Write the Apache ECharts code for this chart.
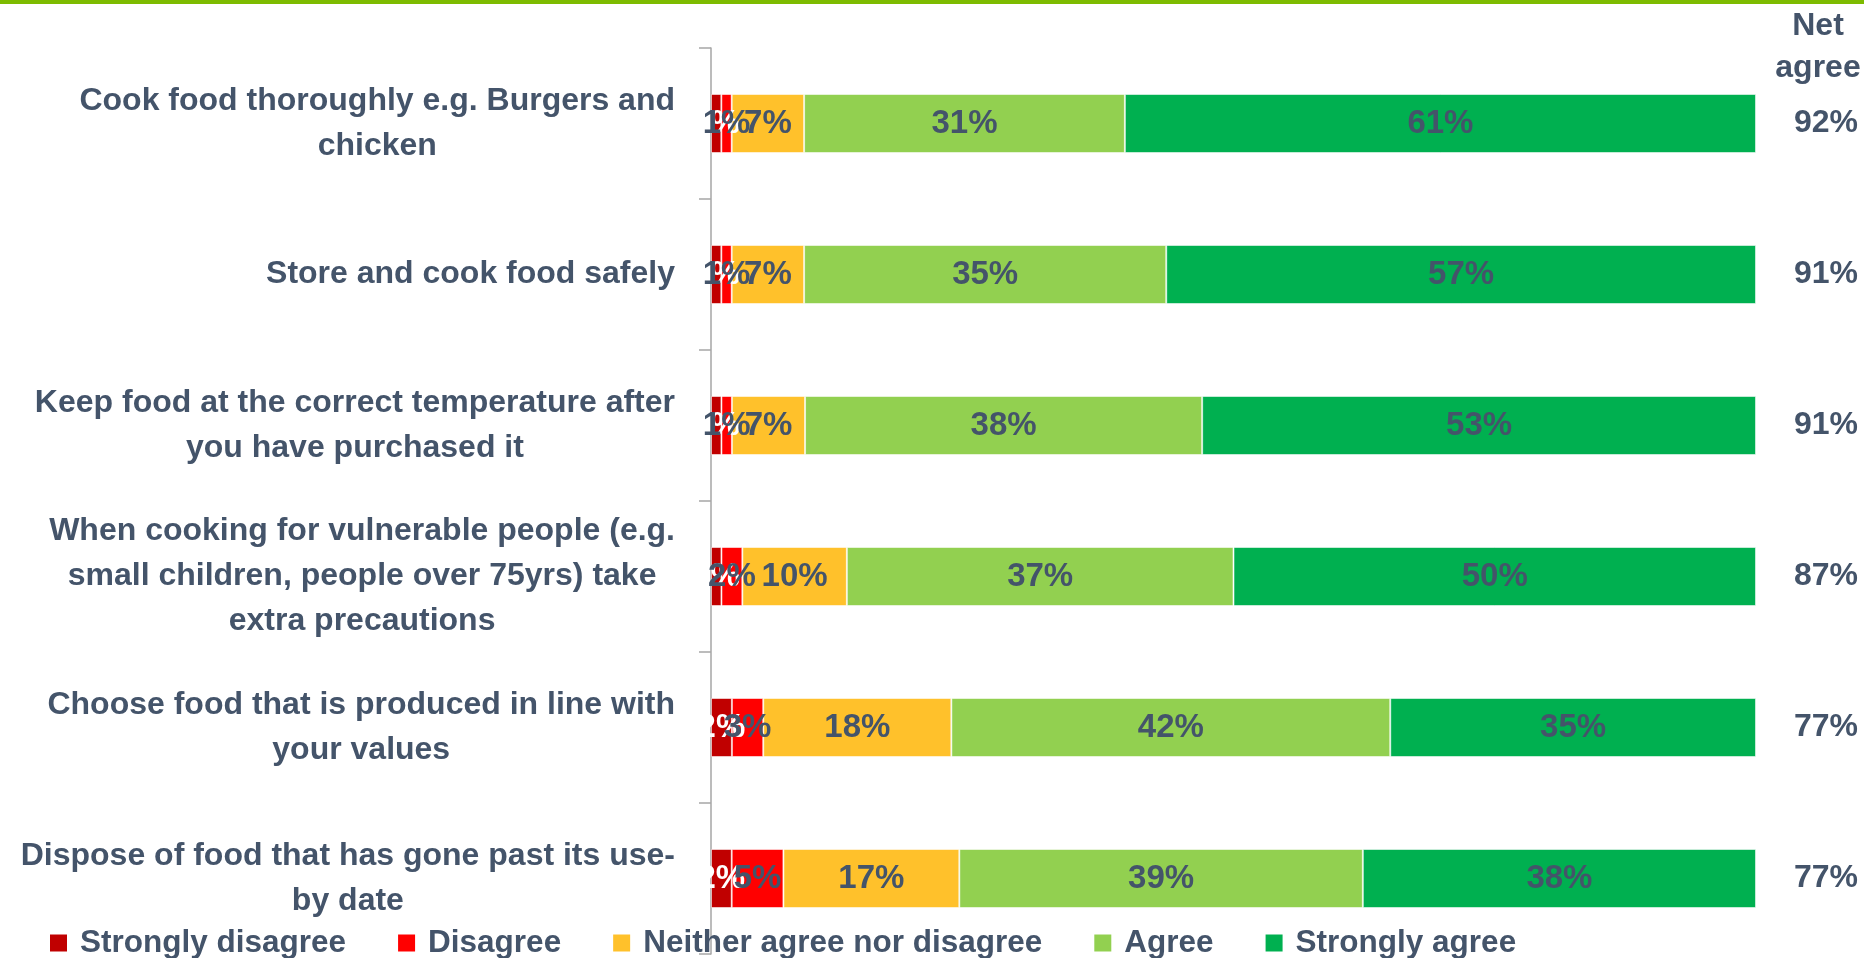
<!DOCTYPE html>
<html>
<head>
<meta charset="utf-8">
<script src="https://cdn.jsdelivr.net/npm/echarts@6/dist/echarts.min.js"></script>
<style>
    html, body { margin: 0; padding: 0; background: #fff; }
    #main { width: 1864px; height: 958px; }
</style>
</head>
<body>
<div id="main"></div>
<script>
var categories = [
    'Cook food thoroughly e.g. Burgers and\nchicken',
    'Store and cook food safely',
    'Keep food at the correct temperature after\nyou have purchased it',
    'When cooking for vulnerable people (e.g.\nsmall children, people over 75yrs) take\nextra precautions',
    'Choose food that is produced in line with\nyour values',
    'Dispose of food that has gone past its use-\nby date'
];
var seriesNames = ['Strongly disagree', 'Disagree', 'Neither agree nor disagree', 'Agree', 'Strongly agree'];
var stronglyDisagree = [1, 1, 1, 1, 2, 2];
var disagree = [1, 1, 1, 2, 3, 5];
var neither = [7, 7, 7, 10, 18, 17];
var agree = [31, 35, 38, 37, 42, 39];
var stronglyAgree = [61, 57, 53, 50, 35, 38];
var netAgree = [92, 91, 91, 87, 77, 77];

var colors = ['#C00000', '#FF0000', '#FFC12B', '#92D050', '#00B050'];
var textColor = '#44546A';
var font = '"Liberation Sans", Arial, sans-serif';

var chart = {
    init() {
        var rows = [stronglyDisagree, disagree, neither, agree, stronglyAgree];
        // 100% stacked: each row scaled to its own total, labels keep the raw numbers
        var totals = categories.map(function (c, i) {
            var s = 0;
            rows.forEach(function (r) { s += r[i]; });
            return s;
        });
        var series = rows.map(function (r, k) {
            return {
                name: seriesNames[k],
                type: 'bar',
                stack: 'all',
                barWidth: 59,
                data: r.map(function (v, i) { return v / totals[i] * 100; }),
                itemStyle: {
                    color: colors[k],
                    borderColor: 'rgba(255,255,255,0.55)',
                    borderWidth: 1
                },
                label: {
                    show: true,
                    position: 'inside',
                    color: k === 0 ? '#ffffff' : textColor,
                    fontFamily: font,
                    fontWeight: 'bold',
                    fontSize: 33,
                    formatter: function (p) {
                        return r[p.dataIndex] + '%';
                    }
                }
            };
        });

        var myChart = echarts.init(document.getElementById('main'));
        var option = {
            animation: false,
            color: colors,
            title: {
                text: 'Net\nagree',
                left: 1813,
                top: 0,
                textAlign: 'center',
                textStyle: {
                    color: textColor,
                    fontFamily: font,
                    fontWeight: 'bold',
                    fontSize: 32,
                    lineHeight: 42
                }
            },
            graphic: [{
                type: 'rect',
                left: 0,
                top: 0,
                shape: { width: 1864, height: 4 },
                style: { fill: '#7DBB00' }
            }],
            legend: {
                left: 45,
                top: 922,
                icon: 'rect',
                itemWidth: 17,
                itemHeight: 17,
                itemGap: 52,
                itemStyle: { borderWidth: 0 },
                data: seriesNames,
                textStyle: {
                    color: textColor,
                    fontFamily: font,
                    fontWeight: 'bold',
                    fontSize: 31.5,
                    padding: [0, 0, 0, 8]
                }
            },
            grid: {
                left: 711,
                right: 108,
                top: 48,
                bottom: 4,
                containLabel: false
            },
            xAxis: {
                type: 'value',
                min: 0,
                max: 100,
                show: false
            },
            yAxis: [{
                type: 'category',
                inverse: true,
                data: categories,
                axisLine: { lineStyle: { color: '#A6A6A6', width: 1.5 } },
                axisTick: { show: true, length: 12, lineStyle: { color: '#A6A6A6', width: 1.5 } },
                axisLabel: {
                    margin: 36,
                    align: 'right',
                    formatter: function (v) {
                        return v.split('\n').map(function (s) { return '{c|' + s + '}'; }).join('\n');
                    },
                    rich: {
                        c: {
                            align: 'center',
                            color: textColor,
                            fontFamily: font,
                            fontWeight: 'bold',
                            fontSize: 32,
                            lineHeight: 45
                        }
                    }
                }
            }, {
                type: 'category',
                inverse: true,
                position: 'right',
                data: categories,
                axisLine: { show: false },
                axisTick: { show: false },
                axisLabel: {
                    margin: 38,
                    align: 'left',
                    color: textColor,
                    fontFamily: font,
                    fontWeight: 'bold',
                    fontSize: 32,
                    formatter: function (v, i) {
                        return netAgree[i] + '%';
                    }
                }
            }],
            series: series
        };
        myChart.setOption(option);
    }
};
chart.init();
</script>
</body>
</html>
